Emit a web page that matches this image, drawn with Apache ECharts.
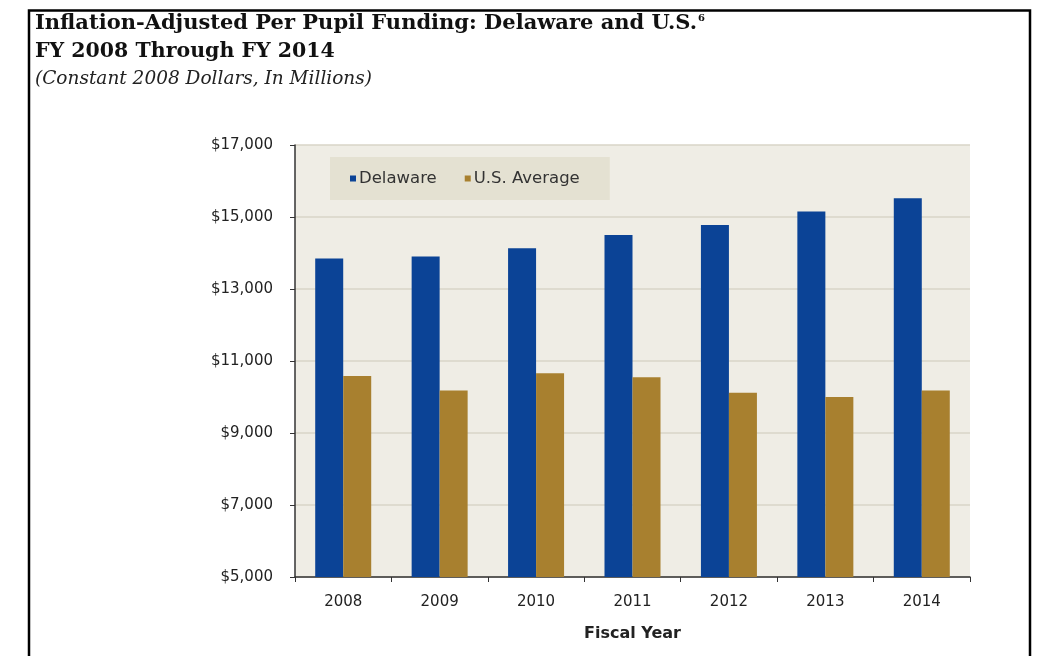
<!DOCTYPE html>
<html>
<head>
<meta charset="utf-8">
<script src="https://cdn.jsdelivr.net/npm/echarts@6/dist/echarts.min.js"></script>
<style>html,body{margin:0;padding:0;background:#fff}#c{width:1046px;height:656px}</style>
</head>
<body>
<div id="c"></div>
<script>
const categories = ['2008','2009','2010','2011','2012','2013','2014'];
const delaware = [13850, 13900, 14130, 14500, 14780, 15150, 15520];
const usAverage = [10580, 10180, 10660, 10550, 10120, 10000, 10180];
const yTicks = [5000, 7000, 9000, 11000, 13000, 15000, 17000];

const chart = echarts.init(document.getElementById('c'), null, {renderer:'canvas'});
const serif = 'DejaVu Serif';
const sans = 'DejaVu Sans';
chart.setOption({
  animation: false,
  backgroundColor: '#ffffff',
  graphic: [
    {type:'rect', shape:{x:29, y:10.5, width:1001, height:700}, style:{fill:'none', stroke:'#000', lineWidth:2.5}, silent:true},
    {type:'text', x:35, y:23.5, style:{
      text:'{a|Inflation-Adjusted Per Pupil Funding: Delaware and U.S.}{s|6}',
      verticalAlign:'middle',
      rich:{
        a:{fontFamily:serif, fontWeight:'bold', fontSize:21, fill:'#111'},
        s:{fontFamily:serif, fontWeight:'bold', fontSize:10, fill:'#111', verticalAlign:'top', padding:[0,0,0,1]}
      }
    }},
    {type:'text', x:35, y:51.5, style:{text:'FY 2008 Through FY 2014', verticalAlign:'middle', fontFamily:serif, fontWeight:'bold', fontSize:20.5, fill:'#111'}},
    {type:'text', x:35, y:79, style:{text:'(Constant 2008 Dollars, In Millions)', verticalAlign:'middle', fontFamily:serif, fontStyle:'italic', fontSize:18.5, fill:'#222'}}
  ],
  legend: {
    left: 330, top: 157,
    padding: [13, 30, 13, 20],
    backgroundColor: '#E4E1D2',
    itemWidth: 6, itemHeight: 6, itemGap: 28,
    icon: 'rect',
    textStyle: {fontFamily:sans, fontSize:16.5, color:'#333', padding:[0,0,0,-2]},
    data: ['Delaware','U.S. Average']
  },
  grid: {left:295, top:145, right:76, bottom:79, show:true, backgroundColor:'#EFEDE5', borderWidth:0},
  xAxis: {
    type:'category', data: categories,
    name:'Fiscal Year', nameLocation:'middle', nameGap:49,
    nameTextStyle:{fontFamily:sans, fontWeight:'bold', fontSize:16, color:'#222'},
    axisLine:{lineStyle:{color:'#333', width:1.5}},
    axisTick:{show:true, length:5, lineStyle:{color:'#333'}},
    axisLabel:{fontFamily:sans, fontSize:15, color:'#222', margin:18}
  },
  yAxis: {
    type:'value', min:5000, max:17000, interval:2000,
    axisLine:{show:true, lineStyle:{color:'#333', width:1.5}},
    axisTick:{show:true, length:5, lineStyle:{color:'#333'}},
    splitLine:{lineStyle:{color:'#D8D5C7', width:1.5}},
    axisLabel:{fontFamily:sans, fontSize:15, color:'#222', margin:22,
      formatter: v => yTicks.includes(v) ? '$' + v.toLocaleString('en-US') : ''}
  },
  series: [
    {name:'Delaware', type:'bar', data: delaware, barWidth:28, barGap:'0%', itemStyle:{color:'#0B4396'}},
    {name:'U.S. Average', type:'bar', data: usAverage, barWidth:28, barGap:'0%', itemStyle:{color:'#A8802F'}}
  ]
});
</script>
</body>
</html>
